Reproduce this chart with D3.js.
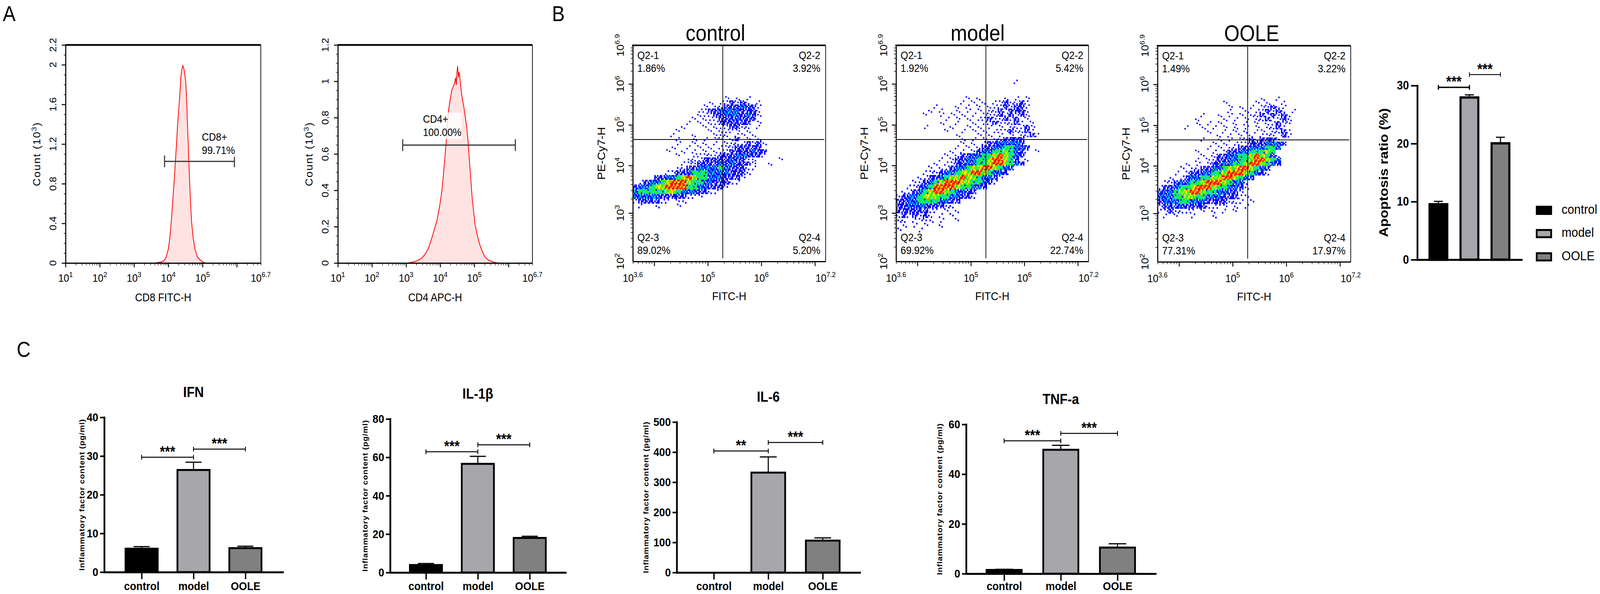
<!DOCTYPE html>
<html>
<head>
<meta charset="utf-8">
<script src="https://cdn.jsdelivr.net/npm/d3@7"></script>
<style>
  html, body { margin: 0; padding: 0; width: 100%; height: 100%; overflow: hidden; background: #fff; }
  #figure, #figure svg { width: 100vw; height: 100vh; display: block; }
</style>
</head>
<body>
<div id="figure"></div>
<script>
// ---------------- values ----------------
const groups = ["control", "model", "OOLE"];

// A: histograms, [log10 intensity, count (x10^3)]
const cd8Curve = [[3.60,0],[3.70,0.005],[3.80,0.01],[3.86,0.02],[3.93,0.05],[4.00,0.14],[4.04,0.24],[4.07,0.35],
  [4.10,0.48],[4.13,0.63],[4.17,0.82],[4.20,0.99],[4.24,1.20],[4.27,1.39],[4.30,1.53],[4.33,1.66],[4.37,1.89],
  [4.40,1.96],[4.42,1.99],[4.44,1.98],[4.47,1.93],[4.49,1.88],[4.51,1.82],[4.54,1.60],[4.56,1.39],[4.59,1.12],
  [4.62,0.84],[4.65,0.60],[4.68,0.41],[4.73,0.24],[4.78,0.14],[4.85,0.06],[4.93,0.03],[5.03,0.005],[5.10,0]];
const cd4Curve = [[3.05,0],[3.20,0.005],[3.35,0.015],[3.46,0.026],[3.56,0.05],[3.66,0.084],[3.74,0.13],[3.81,0.174],
  [3.90,0.232],[3.98,0.31],[4.05,0.40],[4.10,0.50],[4.15,0.61],[4.20,0.73],[4.24,0.835],[4.29,0.90],[4.34,0.953],
  [4.38,0.97],[4.42,0.99],[4.45,1.02],[4.47,0.98],[4.49,1.05],[4.51,1.084],[4.53,1.02],[4.55,1.05],[4.57,1.03],
  [4.60,0.97],[4.64,0.91],[4.69,0.86],[4.73,0.81],[4.78,0.74],[4.82,0.66],[4.86,0.55],[4.90,0.45],[4.93,0.37],
  [4.98,0.28],[5.02,0.21],[5.10,0.14],[5.17,0.095],[5.25,0.055],[5.32,0.03],[5.42,0.015],[5.56,0.005],[5.70,0]];
const cd8Gate = [3.89, 5.93, 1.025];
const cd4Gate = [2.90, 6.20, 0.649];
const cd8GateText = ["CD8+", "99.71%"];
const cd4GateText = ["CD4+", "100.00%"];
const cd8YTicks = [0, 0.4, 0.8, 1.2, 1.6, 2, 2.2];
const cd4YTicks = [0, 0.2, 0.4, 0.6, 0.8, 1, 1.2];
const histXTicks = ["1", "2", "3", "4", "5", "6.7"];

// B: FITC / PE-Cy7 dot plots
const flowXTicks = ["3.6", "5", "6", "7.2"];
const flowYTicks = ["2", "3", "4", "5", "6", "6.9"];
const quadGate = [5.28, 4.64];
const quadNames = ["Q2-1", "Q2-2", "Q2-3", "Q2-4"];
const controlQuad = ["1.86%", "3.92%", "89.02%", "5.20%"];
const modelQuad = ["1.92%", "5.42%", "69.92%", "22.74%"];
const ooleQuad = ["1.49%", "3.22%", "77.31%", "17.97%"];
// density cells: [log10 PE-Cy7 (row bottom), first column, levels 1-6]; column i = log10 FITC 3.6 + 0.1*i
const controlDensity = [
  [5.6, 17, "1.1.1"],
  [5.5, 14, "1.112121.1"],
  [5.4, 13, "1.112223221"],
  [5.3, 12, "112233332221"],
  [5.2, 12, "111223332321"],
  [5.1, 11, "1.1112223222"],
  [5.0, 10, "1.1.11222222.1"],
  [4.9, 9, "1...1.1112211.1"],
  [4.8, 8, "1.....1.1111.1"],
  [4.7, 7, "1...1...111.11.1"],
  [4.6, 8, "1..1.1.11.12.1.1"],
  [4.5, 8, "1..1.1.1.11112121"],
  [4.4, 7, "1..1.1.1.11122222"],
  [4.3, 6, "1..1.1.1.1112222322"],
  [4.2, 8, "1..11111222333221"],
  [4.1, 10, "1112222232211"],
  [4.1, 27, "1"],
  [4.0, 9, "11122223232221"],
  [4.0, 25, "1"],
  [3.9, 8, "112233334322211"],
  [3.8, 6, "1122344433332221"],
  [3.7, 4, "22334565443332221"],
  [3.6, 1, "1233456665443322211"],
  [3.5, 0, "233455666644332221"],
  [3.4, 0, "3444445543332211"],
  [3.3, 0, "3333322222111"],
  [3.2, 0, "1222211.11"],
  [3.1, 1, "1..1...1"]
];
const modelDensity = [
  [6.0, 22, "1"],
  [5.6, 13, "1.1....1.1.1"],
  [5.5, 12, "1.1.1.1121121"],
  [5.4, 7, "1...1.1.1.11121221"],
  [5.3, 6, "1.1..1.1.1.11212221"],
  [5.2, 5, "1..1.1.1.1.111212121"],
  [5.1, 9, "1.1.1.11211212.1"],
  [5.0, 8, "1..1..1.11211121.1"],
  [4.9, 5, "1....1..1.1.1.1.11121"],
  [4.8, 9, "1..1.1.1.11121121"],
  [4.7, 11, "1...1.1.1.1.1121"],
  [4.6, 12, "1.1.1.112222"],
  [4.5, 12, "1.1.12233332"],
  [4.4, 11, "1.1.1223344332"],
  [4.3, 10, "1.1.12334454321.1"],
  [4.2, 9, "1.1223344565432"],
  [4.1, 8, "1.1223344566542.1"],
  [4.0, 7, "1.112233445665432"],
  [3.9, 6, "1.11233455665432"],
  [3.8, 5, "1112334556654332"],
  [3.7, 4, "1122345565543321"],
  [3.6, 3, "1123456665544321"],
  [3.5, 2, "112346666544332"],
  [3.4, 1, "11234566543322"],
  [3.3, 0, "123345554433221"],
  [3.2, 0, "223344443322"],
  [3.1, 0, "22333322211"],
  [3.0, 0, "22222211.1.1"],
  [2.9, 0, "1212121.1.1"],
  [2.8, 0, "11.1111.1..1"],
  [2.7, 0, ".1.1.1..1"],
  [2.6, 0, "1...1"]
];
const ooleDensity = [
  [5.6, 19, "1..1"],
  [5.5, 12, "1.....1.1..1"],
  [5.4, 13, "1.1.1.11211"],
  [5.3, 13, "1..1.112121.1"],
  [5.2, 8, "1..1.1.1.11212121"],
  [5.1, 7, "1....1.1.1.1121121"],
  [5.0, 7, "1.1.1..1.1.1.11211"],
  [4.9, 5, "1..1.1.1.1.1.1.1121"],
  [4.8, 9, "1..1.1.1.11.1121"],
  [4.7, 11, "1.1.1.1.111.21"],
  [4.6, 8, "1..1.1.11212221"],
  [4.5, 10, "1.1.1112223332"],
  [4.4, 9, "1.1.1122333443"],
  [4.3, 7, "1..1.1223344454"],
  [4.2, 8, "1.1223344565421"],
  [4.1, 7, "1.11223344566543"],
  [4.0, 5, "1.1.12233445665432"],
  [3.9, 4, "1.112233455665432"],
  [3.8, 3, "1.1223344566654321"],
  [3.7, 2, "1.12334455665432"],
  [3.6, 1, "1123344566654331"],
  [3.5, 0, "12234456665443321"],
  [3.4, 0, "2334556654433221"],
  [3.3, 0, "33344554433322211"],
  [3.2, 0, "2333443332222111.1"],
  [3.1, 0, "1222322221111.1.1"],
  [3.0, 0, "1121111.1.1.1.1"],
  [2.9, 1, "1.1..1...1"]
];

// B: apoptosis ratio (%)
const apoptosisMean = [9.55, 27.95, 20.05];
const apoptosisSem = [0.5, 0.45, 1.05];
const apoptosisSig = [[0, 1, 29.7, "***"], [1, 2, 31.9, "***"]];

// C: inflammatory factors (pg/ml)
const ifnMean = [6.05, 26.4, 6.2];
const ifnSem = [0.55, 2.0, 0.5];
const ifnSig = [[0, 1, 29.7, "***"], [1, 2, 31.8, "***"]];
const il1bMean = [3.9, 56.6, 18.0];
const il1bSem = [0.8, 3.9, 0.9];
const il1bSig = [[0, 1, 62.9, "***"], [1, 2, 66.5, "***"]];
const il6Mean = [0, 332, 106];
const il6Sem = [0, 52, 9];
const il6Sig = [[0, 1, 404, "**"], [1, 2, 432, "***"]];
const tnfMean = [1.5, 49.8, 10.5];
const tnfSem = [0.25, 1.8, 1.5];
const tnfSig = [[0, 1, 53.4, "***"], [1, 2, 56.4, "***"]];

// ---------------- styling ----------------
const FONT = '"Liberation Sans", Arial, Helvetica, sans-serif';
const barFill = { control: "#000000", model: "#a6a6ab", OOLE: "#808080" };
const dotColor = { b: "#0000ff", c: "#00c8ff", g: "#1aff1a", y: "#ffff00", o: "#ff9900", r: "#ff0000" };
const dotPattern = ["", "b.....b.....", "bb.b.bb.bb.b", "bcb.bcbbcbcb", "cgcggbgcggcg", "gyogygyggoyg", "roroyrrorryr"];
const flowYFrac = [0, 0.2238, 0.444, 0.6318, 0.8213, 1]; // cytometer's uneven decades

// the figure is laid out in 4589 x 1520 units and stretched to whatever the window gives
const W = 4589, H = 1520;
const svg = d3.select("#figure").append("svg")
  .attr("viewBox", [0, 0, W, H]).attr("preserveAspectRatio", "none")
  .attr("font-family", FONT);
svg.append("rect").attr("width", W).attr("height", H).attr("fill", "#fff");

// panel letters
[["A", 8, 54], ["B", 1583, 54], ["C", 48, 913]].forEach(([t, x, y]) =>
  svg.append("text").attr("x", x).attr("y", y).attr("font-size", 55).text(t));

function sup(sel, base, exp, size) {
  sel.append("tspan").text(base);
  sel.append("tspan").attr("dy", -size * 0.42).attr("font-size", size * 0.68).text(exp);
}

// ---------------- A: histograms ----------------
function histogram(L, curve, yTicks, gate, gateText, xTitle) {
  const g = svg.append("g");
  const x = d3.scaleLinear().domain([+histXTicks[0], +histXTicks[histXTicks.length - 1]]).range([L.x0, L.x1]);
  const yMax = d3.max(yTicks);
  const y = d3.scaleLinear().domain([0, yMax]).range([L.yBot, L.yTop]);

  g.append("path").datum(curve).attr("fill", "#ffe3e3")
    .attr("d", d3.area().x(d => x(d[0])).y0(y(0)).y1(d => y(d[1])));
  g.append("path").datum(curve).attr("fill", "none").attr("stroke", "#ff0000").attr("stroke-width", 2.2)
    .attr("d", d3.line().x(d => x(d[0])).y(d => y(d[1])));

  // gate marker + label
  const gx0 = x(gate[0]), gx1 = x(gate[1]), gy = y(gate[2]);
  g.append("path").attr("fill", "none").attr("stroke", "#333").attr("stroke-width", 3)
    .attr("d", `M${gx0},${gy - 15}V${gy + 15}M${gx0},${gy}H${gx1}M${gx1},${gy - 15}V${gy + 15}`);
  g.append("rect").attr("x", L.lx - 4).attr("y", L.ly - 26).attr("width", 116).attr("height", 68)
    .attr("fill", "#fff").attr("opacity", 0.8);
  g.append("text").attr("x", L.lx).attr("y", L.ly).attr("font-size", 28).text(gateText[0]);
  g.append("text").attr("x", L.lx).attr("y", L.ly + 34).attr("font-size", 28).text(gateText[1]);

  // frame
  g.append("path").attr("stroke", "#000").attr("stroke-width", 4.5).attr("d", `M${L.x0},${L.yTop}H${L.x1}`);
  g.append("path").attr("stroke", "#000").attr("stroke-width", 2).attr("d", `M${L.x1},${L.yTop}V${L.yBot}`);

  // y axis
  const yStep = yTicks[1] - yTicks[0];
  g.append("g").attr("transform", `translate(${L.x0},0)`)
    .call(d3.axisLeft(y).tickValues(d3.range(0, yMax + 1e-6, yStep / 4)).tickSize(5).tickFormat(""))
    .call(a => a.select(".domain").remove())
    .selectAll("line").attr("stroke-width", 1.5);
  const ya = g.append("g").attr("transform", `translate(${L.x0},0)`)
    .call(d3.axisLeft(y).tickValues(yTicks).tickSize(11).tickSizeOuter(0).tickFormat(""));
  ya.select(".domain").attr("stroke-width", 3);
  ya.selectAll(".tick line").attr("stroke-width", 2.5);
  g.append("g").selectAll("text").data(yTicks).join("text")
    .attr("transform", d => `translate(${L.x0 - 27},${y(d)}) rotate(-90)`)
    .attr("text-anchor", "middle").attr("font-size", 26).text(d => d3.format("~g")(d));
  const ct = g.append("text")
    .attr("transform", `translate(${L.x0 - 73},${(L.yTop + L.yBot) / 2}) rotate(-90)`)
    .attr("text-anchor", "middle").attr("font-size", 28).attr("letter-spacing", 2);
  ct.append("tspan").text("Count (10");
  ct.append("tspan").attr("dy", -11).attr("font-size", 19).text("3");
  ct.append("tspan").attr("dy", 11).text(")");

  // x axis (log decades)
  const [d0, d1] = x.domain();
  const xMaj = d3.range(Math.ceil(d0), Math.floor(d1) + 1);
  const xMin = [];
  xMaj.forEach(e => d3.range(2, 10).forEach(k => { const v = e + Math.log10(k); if (v < d1) xMin.push(v); }));
  g.append("g").attr("transform", `translate(0,${L.yBot})`)
    .call(d3.axisBottom(x).tickValues(xMin).tickSize(6).tickFormat(""))
    .call(a => a.select(".domain").remove())
    .selectAll("line").attr("stroke-width", 1.5);
  const xa = g.append("g").attr("transform", `translate(0,${L.yBot})`)
    .call(d3.axisBottom(x).tickValues(xMaj).tickSize(11).tickSizeOuter(0).tickFormat(""));
  xa.select(".domain").attr("stroke-width", 3);
  xa.selectAll(".tick line").attr("stroke-width", 2.5);
  histXTicks.forEach(e => {
    const t = g.append("text").attr("x", x(+e)).attr("y", L.yBot + 48).attr("text-anchor", "middle").attr("font-size", 28);
    sup(t, "10", e, 28);
  });
  g.append("text").attr("x", (L.x0 + L.x1) / 2).attr("y", L.yBot + 98)
    .attr("text-anchor", "middle").attr("font-size", 29).text(xTitle);
}

histogram({ x0: 188, x1: 748, yTop: 115, yBot: 673, lx: 579, ly: 360 }, cd8Curve, cd8YTicks, cd8Gate, cd8GateText, "CD8 FITC-H");
histogram({ x0: 969, x1: 1527, yTop: 115, yBot: 673, lx: 1213, ly: 314 }, cd4Curve, cd4YTicks, cd4Gate, cd4GateText, "CD4 APC-H");

// ---------------- B: dot plots ----------------
function flowPlot(L, density, quadVals, title) {
  const g = svg.append("g");
  const xd = flowXTicks.map(Number), yd = flowYTicks.map(Number);
  const x = d3.scaleLinear().domain([xd[0], xd[xd.length - 1]]).range([L.x0, L.x1]);
  const y = d3.scaleLinear().domain(yd).range(flowYFrac.map(f => L.yBot - f * (L.yBot - L.yTop)));

  // density cells, each drawn as a 4x3 speckle block
  const sub = [];
  density.forEach(([ly, c0, row], ri) => {
    [...row].forEach((ch, i) => {
      if (ch === ".") return;
      const c = c0 + i, lx = xd[0] + c * 0.1;
      const xa = x(lx), xb = x(lx + 0.1), ya = y(ly + 0.1), yb = y(ly);
      const pat = dotPattern[+ch], off = (ri * 5 + c * 7) % 12;
      const sw = (xb - xa) / 4, sh = (yb - ya) / 3;
      for (let j = 0; j < 12; j++) {
        const code = pat[(j + off) % 12];
        if (code === ".") continue;
        sub.push({ x: xa + (j % 4) * sw, y: ya + Math.floor(j / 4) * sh, w: sw, h: sh, f: dotColor[code] });
      }
    });
  });
  g.append("g").selectAll("rect").data(sub).join("rect")
    .attr("x", d => d.x).attr("y", d => d.y).attr("width", d => d.w + 0.3).attr("height", d => d.h + 0.3)
    .attr("fill", d => d.f);

  // quadrant gate
  g.append("path").attr("stroke", "#000").attr("stroke-width", 2).attr("fill", "none")
    .attr("d", `M${x(quadGate[0])},${L.yTop}V${L.yBot - 8}M${L.x0},${y(quadGate[1])}H${L.x1 - 4}`);

  // frame
  g.append("path").attr("stroke", "#000").attr("stroke-width", 4).attr("d", `M${L.x0 - 2},${L.yTop}H${L.x1}`);
  g.append("path").attr("stroke", "#000").attr("stroke-width", 2).attr("d", `M${L.x1},${L.yTop}V${L.yBot}`);

  // y axis
  const yMin = [];
  d3.range(Math.floor(yd[0]), Math.ceil(yd[yd.length - 1])).forEach(e =>
    d3.range(2, 10).forEach(k => { const v = e + Math.log10(k); if (v < yd[yd.length - 1]) yMin.push(v); }));
  g.append("g").attr("transform", `translate(${L.x0},0)`)
    .call(d3.axisLeft(y).tickValues(yMin).tickSize(6).tickFormat(""))
    .call(a => a.select(".domain").remove())
    .selectAll("line").attr("stroke-width", 1.5);
  const ya = g.append("g").attr("transform", `translate(${L.x0},0)`)
    .call(d3.axisLeft(y).tickValues([3, 4, 5, 6]).tickSize(12).tickSizeOuter(0).tickFormat(""));
  ya.select(".domain").attr("stroke-width", 3);
  ya.selectAll(".tick line").attr("stroke-width", 2.5);
  flowYTicks.forEach(e => {
    const t = g.append("text").attr("transform", `translate(${L.x0 - 26},${y(+e)}) rotate(-90)`)
      .attr("text-anchor", "middle").attr("font-size", 28);
    sup(t, "10", e, 28);
  });
  g.append("text").attr("transform", `translate(${L.x0 - 80},${(L.yTop + L.yBot) / 2}) rotate(-90)`)
    .attr("text-anchor", "middle").attr("font-size", 30).text("PE-Cy7-H");

  // x axis
  const xMin = [];
  d3.range(Math.floor(xd[0]), Math.ceil(xd[xd.length - 1])).forEach(e =>
    d3.range(2, 10).forEach(k => { const v = e + Math.log10(k); if (v > xd[0] && v < xd[xd.length - 1]) xMin.push(v); }));
  g.append("g").attr("transform", `translate(0,${L.yBot})`)
    .call(d3.axisBottom(x).tickValues(xMin).tickSize(6).tickFormat(""))
    .call(a => a.select(".domain").remove())
    .selectAll("line").attr("stroke-width", 1.5);
  const xa = g.append("g").attr("transform", `translate(0,${L.yBot})`)
    .call(d3.axisBottom(x).tickValues([4, 5, 6, 7]).tickSize(12).tickSizeOuter(0).tickFormat(""));
  xa.select(".domain").attr("stroke-width", 3);
  xa.selectAll(".tick line").attr("stroke-width", 2.5);
  flowXTicks.forEach(e => {
    const t = g.append("text").attr("x", x(+e)).attr("y", L.yBot + 52).attr("text-anchor", "middle").attr("font-size", 28);
    sup(t, "10", e, 28);
  });
  g.append("text").attr("x", (L.x0 + L.x1) / 2).attr("y", L.yBot + 99)
    .attr("text-anchor", "middle").attr("font-size", 30).text("FITC-H");

  // title and quadrant labels
  g.append("text").attr("x", L.tx).attr("y", L.yTop - 12).attr("text-anchor", "middle").attr("font-size", 57).text(title);
  const qx = [L.x0 + 13, L.x1 - 15, L.x0 + 13, L.x1 - 15];
  const qy = [L.yTop + 35, L.yTop + 35, L.yBot - 52, L.yBot - 52];
  quadNames.forEach((q, i) => {
    const anchor = i % 2 ? "end" : "start";
    g.append("text").attr("x", qx[i]).attr("y", qy[i]).attr("text-anchor", anchor).attr("font-size", 28).text(q);
    g.append("text").attr("x", qx[i]).attr("y", qy[i] + 33).attr("text-anchor", anchor).attr("font-size", 28).text(quadVals[i]);
  });
}

flowPlot({ x0: 1815, x1: 2368, yTop: 116, yBot: 669, tx: 2052 }, controlDensity, controlQuad, "control");
flowPlot({ x0: 2570, x1: 3122, yTop: 116, yBot: 669, tx: 2804 }, modelDensity, modelQuad, "model");
flowPlot({ x0: 3320, x1: 3874, yTop: 117, yBot: 670, tx: 3590 }, ooleDensity, ooleQuad, "OOLE");

// ---------------- bar charts ----------------
function barChart(L, mean, sem, sig, o) {
  const g = svg.append("g");
  const x = d3.scalePoint().domain(groups).range([L.x0, L.x1]).padding(L.pad);
  const bw = x.step() * o.barFrac;
  const y = d3.scaleLinear().domain([0, o.max]).range([L.yBot, L.yTop]);
  const rows = groups.map((k, i) => ({ k, m: mean[i], e: sem[i] }));

  // error bars (upper half)
  g.append("g").attr("stroke", "#000").attr("stroke-width", o.errW).attr("fill", "none")
    .selectAll("path").data(rows.filter(d => d.e > 0)).join("path")
    .attr("d", d => `M${x(d.k)},${y(d.m)}V${y(d.m + d.e)}M${x(d.k) - bw / 4},${y(d.m + d.e)}H${x(d.k) + bw / 4}`);

  g.append("g").selectAll("rect").data(rows.filter(d => d.m > 0)).join("rect")
    .attr("x", d => x(d.k) - bw / 2).attr("width", bw)
    .attr("y", d => y(d.m)).attr("height", d => y(0) - y(d.m))
    .attr("fill", d => barFill[d.k]).attr("stroke", "#000").attr("stroke-width", o.barStroke);

  // axes
  const ya = g.append("g").attr("transform", `translate(${L.x0},0)`)
    .call(d3.axisLeft(y).tickValues(d3.range(0, o.max + o.step / 2, o.step))
      .tickSize(o.yTick).tickSizeOuter(0).tickPadding(o.yPad))
    .attr("font-family", FONT);
  ya.select(".domain").attr("stroke-width", o.axisW).attr("stroke-linecap", "square");
  ya.selectAll(".tick line").attr("stroke-width", o.axisW - 1);
  ya.selectAll(".tick text").attr("font-size", o.tickFont).attr("font-weight", "bold").attr("fill", "#000");

  const xa = g.append("g").attr("transform", `translate(0,${L.yBot})`)
    .call(d3.axisBottom(x).tickSize(o.xTick).tickSizeOuter(0).tickPadding(0))
    .attr("font-family", FONT);
  xa.select(".domain").attr("stroke-width", o.axisW).attr("stroke-linecap", "square");
  xa.selectAll(".tick line").attr("stroke-width", o.axisW - 1);
  if (o.xLabels) xa.selectAll(".tick text").attr("font-size", 30).attr("font-weight", "bold").attr("fill", "#000")
    .attr("dy", null).attr("y", 1510 - L.yBot);
  else xa.selectAll(".tick").remove();

  // significance brackets
  sig.forEach(([a, b, v, lab], i) => {
    const xA = x(groups[a]), xB = x(groups[b]), yy = y(v);
    g.append("path").attr("fill", "none").attr("stroke", "#000").attr("stroke-width", o.sigW[i])
      .attr("d", `M${xA},${yy - 6}V${yy + 6}M${xA},${yy}H${xB}M${xB},${yy - 6}V${yy + 6}`);
    g.append("text").attr("x", (xA + xB) / 2).attr("y", yy - 1).attr("text-anchor", "middle")
      .attr("font-size", 38).attr("font-weight", "bold").text(lab);
  });

  // titles
  g.append("text")
    .attr("transform", `translate(${L.yTitleX + o.yTitleSize * 0.36},${(L.yTop + L.yBot) / 2}) rotate(-90)`)
    .attr("text-anchor", "middle").attr("font-size", o.yTitleSize).attr("font-weight", "bold")
    .attr("letter-spacing", o.yTitleSpacing).text(o.yTitle);
  if (o.title) g.append("text").attr("x", x("model")).attr("y", L.yTop - 52).attr("text-anchor", "middle")
    .attr("font-size", 37).attr("font-weight", "bold").text(o.title);
}

const cOpts = {
  barFrac: 0.62, barStroke: 5, errW: 3, axisW: 5, yTick: 12, yPad: 5, xTick: 18, tickFont: 30,
  xLabels: true, sigW: [2.5, 2.5], yTitle: "Inflammatory factor content (pg/ml)", yTitleSize: 21, yTitleSpacing: 1
};
barChart({ x0: 299, x1: 811, yTop: 1068, yBot: 1464, pad: 0.72, yTitleX: 234 }, ifnMean, ifnSem, ifnSig,
  { ...cOpts, max: 40, step: 10, title: "IFN" });
barChart({ x0: 1119, x1: 1622, yTop: 1072, yBot: 1465, pad: 0.69, yTitleX: 1047 }, il1bMean, il1bSem, il1bSig,
  { ...cOpts, max: 80, step: 20, title: "IL-1β" });
barChart({ x0: 1941, x1: 2466, yTop: 1080, yBot: 1465, pad: 0.68, yTitleX: 1852 }, il6Mean, il6Sem, il6Sig,
  { ...cOpts, max: 500, step: 100, title: "IL-6" });
barChart({ x0: 2771, x1: 3314, yTop: 1086, yBot: 1468, pad: 0.67, yTitleX: 2695 }, tnfMean, tnfSem, tnfSig,
  { ...cOpts, max: 60, step: 20, title: "TNF-a" });

barChart({ x0: 4065, x1: 4364, yTop: 219, yBot: 664.5, pad: 0.68, yTitleX: 3968 }, apoptosisMean, apoptosisSem, apoptosisSig,
  { barFrac: 0.573, barStroke: 6, errW: 3, axisW: 5, yTick: 18, yPad: 6, xTick: 0, tickFont: 31,
    xLabels: false, sigW: [3.5, 2.2], max: 30, step: 10, title: null,
    yTitle: "Apoptosis ratio (%)", yTitleSize: 36, yTitleSpacing: 0 });

// legend for the apoptosis bars
const lg = svg.append("g");
groups.forEach((k, i) => {
  lg.append("rect").attr("x", 4407.5).attr("y", 529 + i * 59.5).attr("width", 41.5).attr("height", 18.5)
    .attr("fill", barFill[k]).attr("stroke", "#000").attr("stroke-width", 5);
  lg.append("text").attr("x", 4479).attr("y", 547 + i * 59.5).attr("font-size", 34).text(k);
});
</script>
</body>
</html>
